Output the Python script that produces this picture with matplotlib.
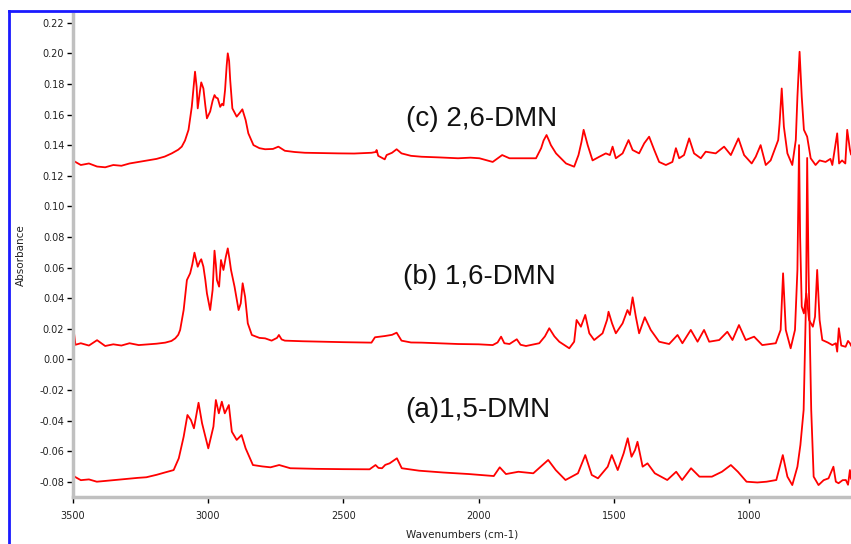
import numpy as np
import matplotlib
matplotlib.use("Agg")
import matplotlib.pyplot as plt
from matplotlib.lines import Line2D
from matplotlib.ticker import MultipleLocator, FormatStrFormatter

# ---------------- spectra (wavenumber cm-1, absorbance) ----------------
wn_c = [3500, 3470, 3440, 3410, 3380, 3350, 3320, 3290, 3256, 3220, 3190, 3160, 3134, 3110,
        3097, 3085, 3072, 3060, 3052, 3048, 3042, 3038, 3030, 3025, 3017, 3010, 3004, 2992,
        2983, 2976, 2970, 2964, 2955, 2948, 2943, 2937, 2931, 2927, 2922, 2918, 2910, 2894,
        2883, 2873, 2861, 2851, 2832, 2810, 2789, 2760, 2740, 2716, 2680, 2642, 2580, 2518,
        2460, 2396, 2380, 2377, 2371, 2347, 2340, 2320, 2303, 2285, 2250, 2211, 2150, 2076,
        2030, 1997, 1948, 1913, 1886, 1825, 1788, 1769, 1760, 1749, 1740, 1733, 1714, 1677,
        1647, 1631, 1620, 1612, 1597, 1579, 1554, 1530, 1515, 1505, 1493, 1468, 1446, 1431,
        1407, 1388, 1370, 1351, 1333, 1308, 1284, 1271, 1259, 1241, 1222, 1204, 1179, 1161,
        1124, 1093, 1068, 1040, 1019, 991, 976, 958, 939, 921, 909, 893, 888, 880, 872, 859,
        841, 828, 822, 814, 806, 798, 786, 773, 755, 740, 718, 700, 693, 675, 668, 657, 645,
        638, 628, 624]
abs_c = [0.130, 0.127, 0.128, 0.126, 0.1255, 0.127, 0.1265, 0.128, 0.129, 0.130, 0.131, 0.1325,
         0.1346, 0.137, 0.139, 0.143, 0.150, 0.165, 0.180, 0.188, 0.178, 0.164, 0.175, 0.181,
         0.177, 0.166, 0.1575, 0.162, 0.169, 0.1727, 0.171, 0.1706, 0.165, 0.167, 0.166, 0.176,
         0.192, 0.200, 0.195, 0.1825, 0.164, 0.1586, 0.161, 0.1634, 0.1564, 0.1477, 0.140,
         0.138, 0.1373, 0.1375, 0.139, 0.1363, 0.1355, 0.135, 0.1348, 0.1346, 0.1345, 0.135,
         0.1355, 0.1368, 0.133, 0.1307, 0.1335, 0.135, 0.1373, 0.1346, 0.133, 0.1324, 0.132,
         0.1314, 0.1318, 0.1314, 0.129, 0.1335, 0.1314, 0.1314, 0.1314, 0.138, 0.143, 0.1466,
         0.143, 0.140, 0.1346, 0.128, 0.1259, 0.1335, 0.142, 0.150, 0.140, 0.130, 0.1324,
         0.1346, 0.1335, 0.139, 0.1314, 0.1346, 0.1433, 0.1368, 0.1346, 0.1412, 0.1455, 0.1368,
         0.129, 0.127, 0.129, 0.138, 0.1314, 0.1335, 0.1444, 0.1346, 0.1314, 0.1357, 0.1346,
         0.139, 0.1335, 0.1444, 0.1335, 0.128, 0.1324, 0.140, 0.127, 0.130, 0.1357, 0.1433,
         0.154, 0.177, 0.152, 0.1346, 0.127, 0.1433, 0.1716, 0.201, 0.1716, 0.150, 0.1455,
         0.1314, 0.127, 0.130, 0.129, 0.131, 0.127, 0.1477, 0.128, 0.130, 0.128, 0.150, 0.137,
         0.134]

wn_b = [3500, 3495, 3490, 3470, 3440, 3410, 3380, 3350, 3320, 3290, 3256, 3220, 3190, 3158,
        3135, 3121, 3110, 3103, 3090, 3078, 3066, 3058, 3050, 3044, 3038, 3030, 3025, 3017,
        3010, 3004, 2992, 2983, 2976, 2971, 2967, 2959, 2952, 2943, 2934, 2927, 2921, 2915,
        2902, 2887, 2879, 2872, 2863, 2853, 2838, 2810, 2789, 2765, 2745, 2738, 2728, 2716,
        2650, 2580, 2500, 2396, 2383, 2347, 2320, 2303, 2285, 2250, 2211, 2150, 2076, 2000,
        1948, 1930, 1917, 1905, 1886, 1859, 1845, 1825, 1776, 1755, 1739, 1720, 1702, 1665,
        1647, 1638, 1622, 1606, 1591, 1573, 1542, 1525, 1520, 1507, 1493, 1468, 1450, 1441,
        1431, 1419, 1407, 1386, 1364, 1333, 1296, 1265, 1247, 1216, 1191, 1167, 1148, 1111,
        1081, 1062, 1038, 1013, 982, 952, 902, 884, 875, 865, 847, 831, 822, 816, 812, 806,
        798, 789, 779, 765, 757, 749, 740, 730, 710, 693, 680, 675, 669, 660, 644, 635, 628,
        624]
abs_b = [0.0115, 0.017, 0.0095, 0.0105, 0.009, 0.0125, 0.0087, 0.0098, 0.009, 0.0105, 0.0093,
         0.0098, 0.0102, 0.0109, 0.012, 0.0137, 0.016, 0.0192, 0.0322, 0.0518, 0.0562, 0.062,
         0.0697, 0.065, 0.0605, 0.064, 0.0654, 0.0605, 0.052, 0.0431, 0.0322, 0.0453, 0.071,
         0.062, 0.0518, 0.0475, 0.0649, 0.0584, 0.0671, 0.0725, 0.066, 0.0584, 0.0475, 0.0322,
         0.0366, 0.0497, 0.0409, 0.0235, 0.0159, 0.014, 0.0137, 0.0122, 0.014, 0.0159, 0.013,
         0.0122, 0.0118, 0.0115, 0.0112, 0.0109, 0.0144, 0.0152, 0.016, 0.0174, 0.0122, 0.011,
         0.0109, 0.0105, 0.010, 0.0098, 0.0093, 0.011, 0.0148, 0.0105, 0.010, 0.0131, 0.0095,
         0.0087, 0.0105, 0.015, 0.0203, 0.015, 0.0115, 0.0072, 0.0115, 0.0257, 0.0213, 0.029,
         0.017, 0.0126, 0.017, 0.026, 0.0311, 0.0235, 0.017, 0.0235, 0.0322, 0.029, 0.0405,
         0.0278, 0.017, 0.0275, 0.0192, 0.0115, 0.010, 0.0159, 0.0105, 0.0192, 0.0115, 0.0192,
         0.0115, 0.0126, 0.018, 0.0126, 0.0224, 0.0126, 0.0148, 0.0093, 0.0105, 0.0192, 0.0562,
         0.0192, 0.0072, 0.0192, 0.0584, 0.140, 0.080, 0.0344, 0.030, 0.0431, 0.0257, 0.0213,
         0.0278, 0.0584, 0.0257, 0.0126, 0.011, 0.0093, 0.0105, 0.005, 0.0203, 0.009, 0.0082,
         0.012, 0.0105, 0.009]

wn_a = [3500, 3493, 3470, 3440, 3411, 3380, 3350, 3320, 3290, 3260, 3228, 3190, 3160, 3127,
        3108, 3090, 3076, 3063, 3052, 3035, 3022, 2999, 2980, 2971, 2960, 2949, 2938, 2923,
        2912, 2894, 2876, 2861, 2834, 2800, 2769, 2737, 2696, 2600, 2500, 2403, 2381, 2370,
        2357, 2345, 2329, 2302, 2284, 2220, 2130, 2036, 1944, 1922, 1899, 1853, 1798, 1743,
        1715, 1679, 1633, 1606, 1582, 1559, 1523, 1508, 1486, 1464, 1449, 1435, 1422, 1413,
        1394, 1376, 1349, 1303, 1270, 1248, 1215, 1184, 1138, 1101, 1068, 1042, 1010, 970,
        936, 900, 876, 859, 841, 822, 811, 799, 790, 786, 781, 771, 762, 744, 725, 707, 689,
        680, 670, 655, 643, 635, 628, 624]
abs_a = [-0.074, -0.0767, -0.079, -0.0785, -0.080, -0.0795, -0.079, -0.0785, -0.078, -0.0775,
         -0.0771, -0.0755, -0.074, -0.0724, -0.0647, -0.0506, -0.0364, -0.0397, -0.0451,
         -0.0284, -0.0418, -0.0582, -0.044, -0.0266, -0.0353, -0.0277, -0.0353, -0.0299,
         -0.0473, -0.0527, -0.0495, -0.0582, -0.0691, -0.070, -0.0706, -0.0691, -0.0712,
         -0.0716, -0.0718, -0.0719, -0.0691, -0.071, -0.0712, -0.069, -0.068, -0.0647, -0.0712,
         -0.0728, -0.074, -0.075, -0.0763, -0.0706, -0.075, -0.0735, -0.0745, -0.0658, -0.0724,
         -0.0789, -0.0745, -0.0626, -0.0756, -0.0778, -0.0702, -0.0626, -0.0724, -0.0614,
         -0.0516, -0.0637, -0.0593, -0.0539, -0.0702, -0.068, -0.0745, -0.0789, -0.0735,
         -0.0789, -0.0712, -0.0767, -0.0767, -0.0735, -0.0691, -0.0735, -0.080, -0.0805,
         -0.080, -0.0789, -0.0626, -0.0767, -0.0822, -0.0702, -0.056, -0.0331, 0.040, 0.1316,
         0.060, -0.0331, -0.0767, -0.0822, -0.079, -0.0778, -0.0702, -0.080, -0.081, -0.079,
         -0.0789, -0.082, -0.0724, -0.078]

labels = ["(c) 2,6-DMN", "(b) 1,6-DMN", "(a)1,5-DMN"]
label_wn = [1988, 1998, 2002]
label_abs = [0.1569, 0.0538, -0.0331]
# -----------------------------------------------------------------------

plt.rcParams["axes.unicode_minus"] = False

W, H = 851, 544
fig = plt.figure(figsize=(W / 100, H / 100), dpi=100)
ax = fig.add_axes([72.7 / W, 1 - 497 / H, 1 - 72.7 / W, (497 - 14) / H])

for wn, ab in [(wn_c, abs_c), (wn_b, abs_b), (wn_a, abs_a)]:
    ax.plot(wn, ab, color="#ff0000", lw=1.3)

for txt, xw, ya in zip(labels, label_wn, label_abs):
    ax.text(xw, ya, txt, ha="center", va="center", fontsize=20,
            family="Liberation Sans", color="#111111")

ax.set_xlim(3500, 624)
ax.set_ylim(-0.090, 0.2257)

ax.xaxis.set_major_locator(MultipleLocator(500))
ax.xaxis.set_minor_locator(MultipleLocator(100))
ax.yaxis.set_major_locator(MultipleLocator(0.02))
ax.yaxis.set_minor_locator(MultipleLocator(0.005))
ax.yaxis.set_major_formatter(FormatStrFormatter("%.2f"))

for s in ["top", "right"]:
    ax.spines[s].set_visible(False)
for s in ["left", "bottom"]:
    ax.spines[s].set_color("#c0c0c0")
    ax.spines[s].set_linewidth(2.5)

ax.tick_params(which="major", direction="out", length=4, width=1, color="black",
               labelsize=7, pad=2, labelcolor="#222222")
ax.tick_params(axis="x", which="major", pad=6)
ax.tick_params(which="minor", direction="inout", length=2, width=1, color="black")

ax.set_xlabel("Wavenumbers (cm-1)", fontsize=7.5, labelpad=6, color="#222222")
ax.set_ylabel("Absorbance", fontsize=7.5, labelpad=10, color="#222222")

# blue frame around the plot window
fig.add_artist(Line2D([9 / W, 9 / W], [0, 1 - 11 / H], color="#1a1aff", lw=2,
                      transform=fig.transFigure))
fig.add_artist(Line2D([9 / W, 1], [1 - 11 / H, 1 - 11 / H], color="#1a1aff", lw=2,
                      transform=fig.transFigure))

fig.savefig("out.png", dpi=100)
